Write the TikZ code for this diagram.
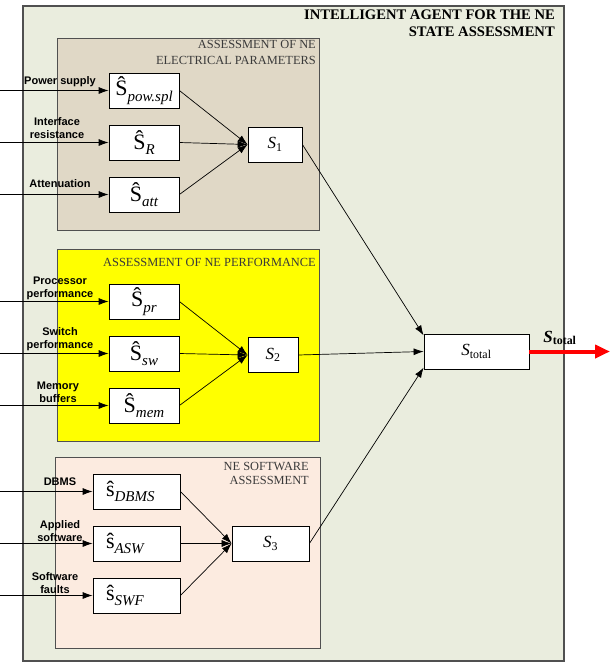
\documentclass[tikz,border=0pt]{standalone}
\usepackage{fontspec}
\setmainfont{Liberation Serif}
\newfontfamily\labelsans{Liberation Sans}
\usetikzlibrary{arrows.meta}
\definecolor{agent}{HTML}{EAEDDE}
\definecolor{elec}{HTML}{E0D8C6}
\definecolor{perf}{HTML}{FFFF00}
\definecolor{soft}{HTML}{FCEBE0}
\definecolor{frame}{HTML}{505050}
\definecolor{caption}{HTML}{3A3A3A}
\definecolor{result}{HTML}{FF0000}
\tikzset{
  agentbox/.style={fill=agent, draw=frame, line width=1.3pt},
  groupbox/.style={draw=frame, line width=1pt},
  agenttitle/.style={font=\bfseries\fontsize{14.6}{17}\selectfont, align=right,
    anchor=north east, inner sep=0pt},
  grouptitle/.style={font=\fontsize{12.4}{16}\selectfont, text=caption,
    align=right, anchor=north east, inner sep=0pt},
  estim/.style={draw=black, fill=white, line width=0.8pt, minimum width=70pt,
    minimum height=35pt, inner sep=0pt, font=\fontsize{22}{22}\selectfont},
  swest/.style={estim, minimum width=87pt, text width=61pt, align=left,
    inner xsep=13pt},
  fuse/.style={draw=black, fill=white, line width=0.8pt, minimum height=35pt,
    inner sep=0pt, font=\fontsize{17}{17}\selectfont},
  feed/.style={-{Latex[length=10pt,width=7pt]}, line width=0.8pt},
  link/.style={-{Latex[length=10pt,width=7pt]}, line width=0.7pt},
  outflow/.style={draw=result, line width=4pt, -{Triangle[length=15pt,width=13pt]}},
  inlabel/.style={font=\labelsans\bfseries\fontsize{11}{13}\selectfont,
    align=center, inner sep=0pt},
}
\newcommand{\est}[2]{#1\raisebox{-0.25em}{\fontsize{15}{15}\selectfont\itshape #2}}
\newcommand{\feedin}[4]{%
  \coordinate (#1-in) at (#1.west -| 0,0);
  \draw[feed] (#1-in) -- (#1.west);
  \node[inlabel] (#1-lbl) at (#2,#3) {#4};
}

\begin{document}
\begin{tikzpicture}[x=1pt, y=-1pt]
\path[use as bounding box] (0,0) rectangle (610,662);
\draw[agentbox] (23,6) rectangle (564,661);
\node[agenttitle] (agent-title) at (555,10) {INTELLIGENT AGENT FOR THE NE\\STATE ASSESSMENT};

\draw[groupbox, fill=elec] (57,38) rectangle (319,230);
\draw[groupbox, fill=perf] (57,249) rectangle (319,441);
\draw[groupbox, fill=soft] (55,457) rectangle (320,648);
\node[grouptitle] (elec-title) at (316,40) {ASSESSMENT OF NE\\ELECTRICAL PARAMETERS};
\node[grouptitle] (perf-title) at (316,258) {ASSESSMENT OF NE PERFORMANCE};
\node[grouptitle, font=\fontsize{12.4}{14}\selectfont] (soft-title) at (309,462) {NE SOFTWARE\\ASSESSMENT};

\node[estim] (spow) at (144,90.5) {\est{\^{S}}{pow.spl}};
\node[estim] (sr) at (144,142.5) {\est{\^{S}}{R}};
\node[estim] (satt) at (144,194.5) {\est{\^{S}}{att}};
\node[fuse, minimum width=54pt] (s1) at (275,144.5) {\textit{S}\textsubscript{1}};

\node[estim] (spr) at (144,301.5) {\est{\^{S}}{pr}};
\node[estim] (ssw) at (144,353.5) {\est{\^{S}}{sw}};
\node[estim] (smem) at (144,405.5) {\est{\^{S}}{mem}};
\node[fuse, minimum width=50pt] (s2) at (273,355) {\textit{S}\textsubscript{2}};

\node[swest] (sdbms) at (136.5,491.5) {\est{\^{s}}{DBMS}};
\node[swest] (sasw) at (136.5,543.5) {\est{\^{s}}{ASW}};
\node[swest] (sswf) at (136.5,595.5) {\est{\^{s}}{SWF}};
\node[fuse, minimum width=77pt] (s3) at (270.5,543.5) {\textit{S}\textsubscript{3}};

\node[fuse, minimum width=105pt] (stotal) at (476.5,351.5) {\textit{S}\textsubscript{total}};
\coordinate (out-end) at (610,351.5);

\feedin{spow}{60}{82}{Power supply}
\feedin{sr}{57}{128}{Interface\\resistance}
\feedin{satt}{60}{184}{Attenuation}
\feedin{spr}{60}{288}{Processor\\performance}
\feedin{ssw}{60}{339}{Switch\\performance}
\feedin{smem}{58}{392}{Memory\\buffers}
\feedin{sdbms}{60}{482}{DBMS}
\feedin{sasw}{60}{531}{Applied\\software}
\feedin{sswf}{55}{583}{Software\\faults}

\foreach \src in {spow,sr,satt}{\draw[link] (\src.east) -- (s1.west);}
\foreach \src in {spr,ssw,smem}{\draw[link] (\src.east) -- (s2.west);}
\foreach \src in {sdbms,sasw,sswf}{\draw[link] (\src.east) -- (s3.west);}

\draw[link] (s1.east) -- (stotal.163);
\draw[link] (s2.east) -- (stotal.west);
\draw[link] (s3.east) -- (stotal.197);

\draw[outflow] (stotal.east) -- (out-end);
\node[font=\fontsize{17}{17}\selectfont, inner sep=0pt] (out-lbl) at (560,338)
  {\textbf{\textit{S}}\textsubscript{\textbf{total}}};
\end{tikzpicture}
\end{document}
